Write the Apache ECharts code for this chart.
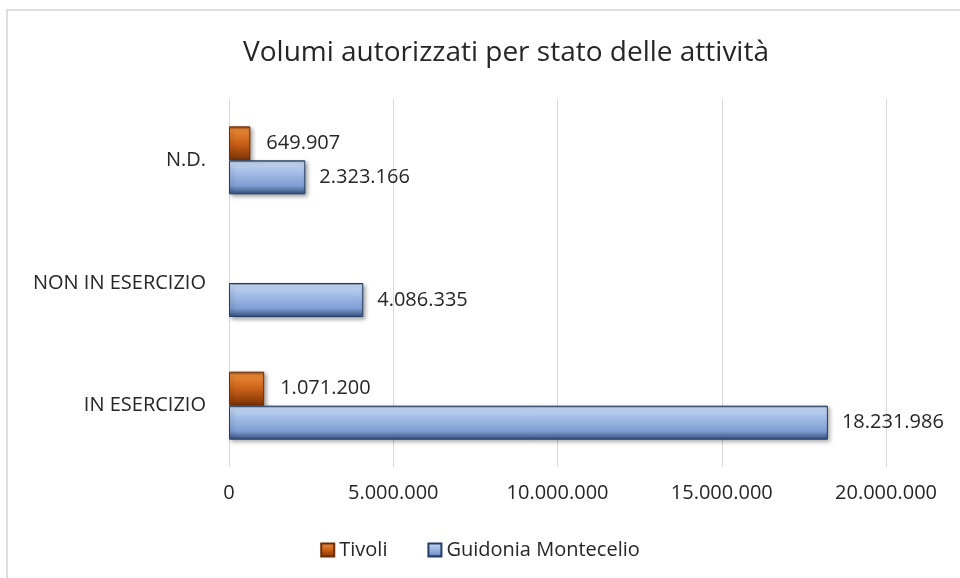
<!DOCTYPE html>
<html>
<head>
<meta charset="utf-8">
<script src="https://cdn.jsdelivr.net/npm/echarts@6/dist/echarts.min.js"></script>
<style>
html,body{margin:0;padding:0;background:#fff;}
#chart{width:960px;height:578px;}
</style>
</head>
<body>
<div id="chart"></div>
<script>
var categories = ['IN ESERCIZIO', 'NON IN ESERCIZIO', 'N.D.'];
var tivoli = [1071200, null, 649907];
var guidonia = [18231986, 4086335, 2323166];
var xTicks = [0, 5000000, 10000000, 15000000, 20000000];

function fmt(v) {
  return String(Math.round(v)).replace(/\B(?=(\d{3})+(?!\d))/g, '.');
}

var blueFill = new echarts.graphic.LinearGradient(0, 0, 0, 1, [
  {offset: 0, color: '#2d4670'},
  {offset: 0.07, color: '#c6d8f3'},
  {offset: 0.3, color: '#a9c2ea'},
  {offset: 0.75, color: '#7f9dd2'},
  {offset: 1, color: '#304d7a'}
]);
var orangeFill = new echarts.graphic.LinearGradient(0, 0, 0, 1, [
  {offset: 0, color: '#8a3b08'},
  {offset: 0.1, color: '#e88836'},
  {offset: 0.5, color: '#cc6118'},
  {offset: 1, color: '#7a3306'}
]);

var FONT = 'Open Sans';
var chart = echarts.init(document.getElementById('chart'));
chart.setOption({
  animation: false,
  backgroundColor: '#fff',
  graphic: [{
    type: 'rect',
    shape: {x: 7, y: 10, width: 1000, height: 600},
    style: {fill: 'none', stroke: '#d4d4d4', lineWidth: 1.5},
    silent: true
  }],
  title: {
    text: 'Volumi autorizzati per stato delle attività',
    left: 501, top: 34, textAlign: 'center',
    textStyle: {fontFamily: FONT, fontWeight: 'normal', fontSize: 28, color: '#262626'}
  },
  legend: {
    data: ['Tivoli', 'Guidonia Montecelio'],
    left: 'center', top: 535,
    itemWidth: 13, itemHeight: 13, itemGap: 40,
    icon: 'rect',
    textStyle: {fontFamily: FONT, fontSize: 20, color: '#262626'}
  },
  grid: {left: 229, right: 74, top: 99, bottom: 111},
  xAxis: {
    type: 'value', min: 0, max: 20000000, interval: 5000000,
    axisLine: {show: false}, axisTick: {show: false},
    splitLine: {lineStyle: {color: '#d9d9d9'}},
    axisLabel: {fontFamily: FONT, fontSize: 20, color: '#262626', margin: 16,
      formatter: function (v) { return fmt(v); }}
  },
  yAxis: {
    type: 'category', data: categories,
    axisLine: {show: false}, axisTick: {show: false},
    axisLabel: {fontFamily: FONT, fontSize: 20, color: '#262626', margin: 23}
  },
  series: [
    {
      name: 'Tivoli', type: 'bar', data: tivoli,
      barWidth: 34, barGap: '0%',
      itemStyle: {color: orangeFill, borderColor: '#6b2d05', borderWidth: 1,
        shadowBlur: 4, shadowColor: 'rgba(0,0,0,0.35)', shadowOffsetX: 2, shadowOffsetY: 2},
      label: {show: true, position: 'right', distance: 16, fontFamily: FONT, fontSize: 20, color: '#262626',
        formatter: function (p) { return fmt(p.value); }}
    },
    {
      name: 'Guidonia Montecelio', type: 'bar', data: guidonia,
      barWidth: 34, barGap: '0%',
      itemStyle: {color: blueFill, borderColor: '#243d63', borderWidth: 1,
        shadowBlur: 4, shadowColor: 'rgba(0,0,0,0.35)', shadowOffsetX: 2, shadowOffsetY: 2},
      label: {show: true, position: 'right', distance: 14, fontFamily: FONT, fontSize: 20, color: '#262626',
        formatter: function (p) { return fmt(p.value); }}
    }
  ]
});
</script>
</body>
</html>
